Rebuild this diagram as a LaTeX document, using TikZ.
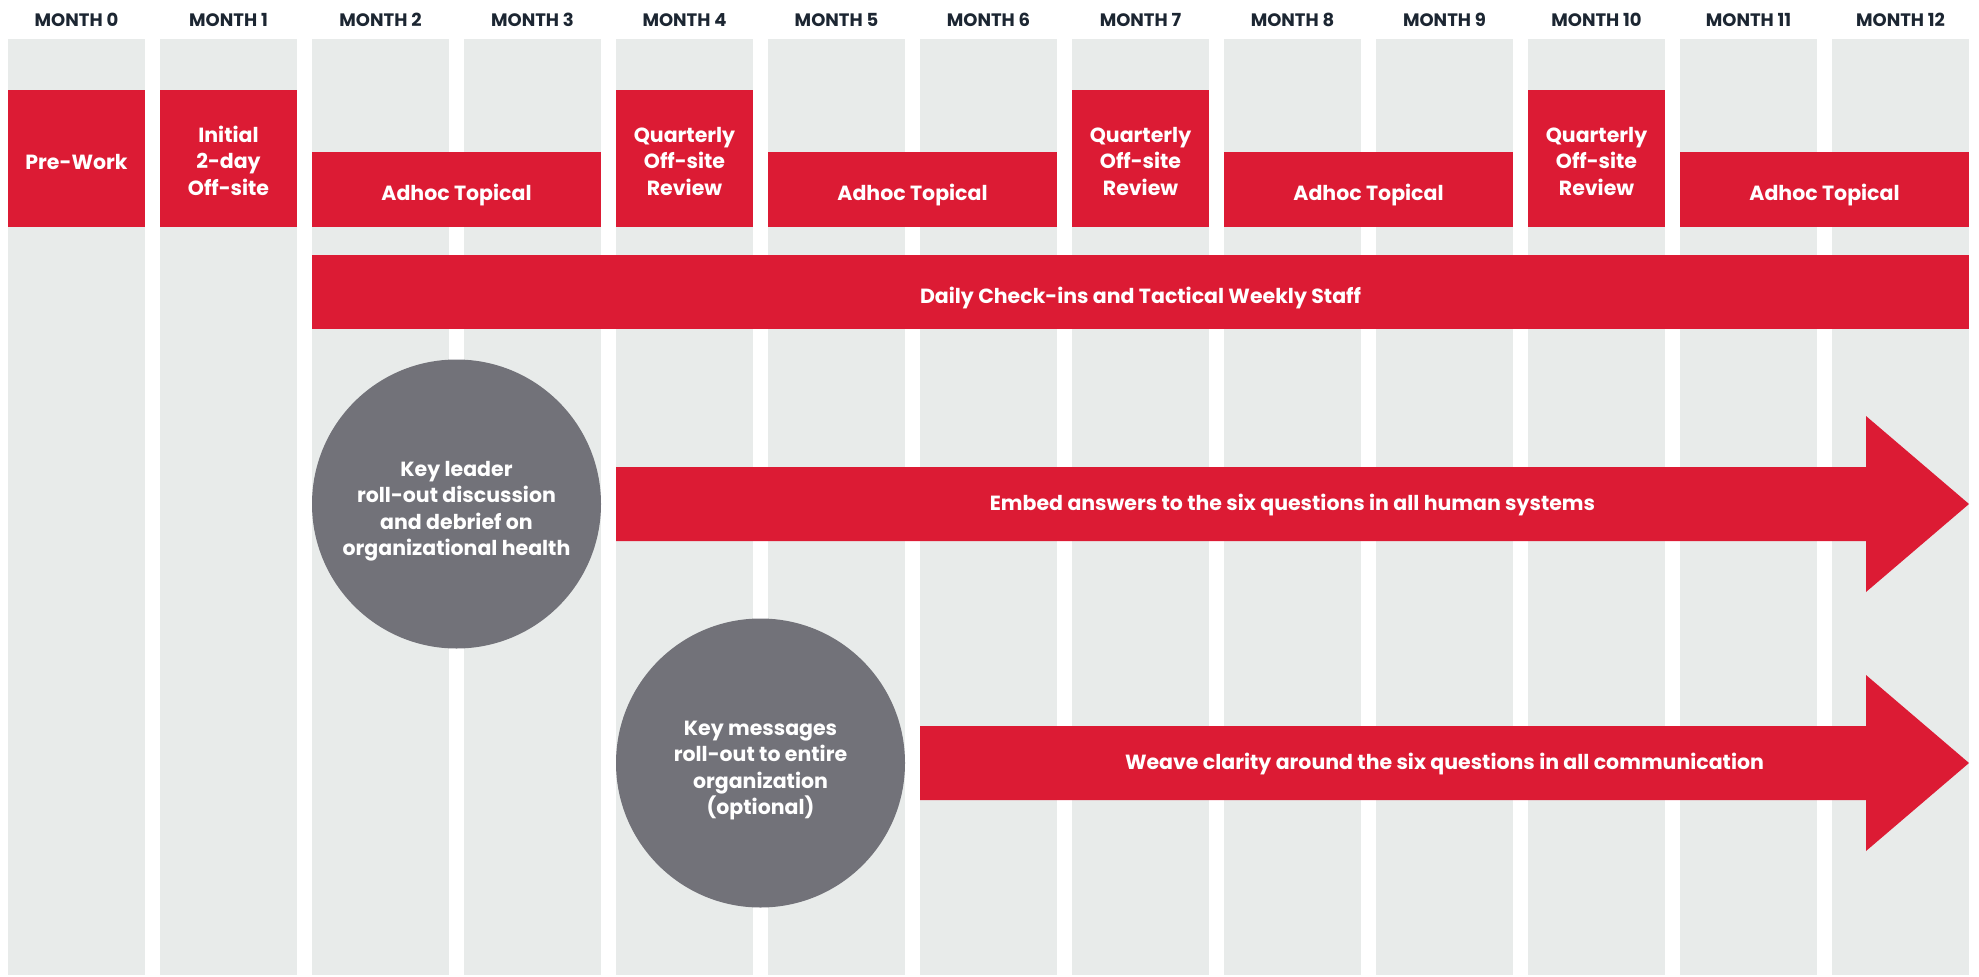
\documentclass[tikz,border=0pt]{standalone}
\usepackage{fontspec}
\setmainfont{Poppins}

\definecolor{planred}{RGB}{220,27,52}
\definecolor{colgray}{RGB}{232,235,234}
\definecolor{roundgray}{RGB}{114,114,121}
\definecolor{labelnavy}{RGB}{28,38,50}

\tikzset{
  monthcol/.style={fill=colgray, minimum width=137pt, minimum height=936pt, inner sep=0pt},
  monthlabel/.style={text=labelnavy, inner sep=0pt, font=\fontsize{18}{20}\selectfont\bfseries},
  eventbox/.style={fill=planred, text=white, minimum width=137pt, minimum height=137pt, inner sep=0pt,
    text height=73.5pt, text depth=0pt, align=center, font=\fontsize{20.5}{26.5}\selectfont\bfseries},
  topicbar/.style={fill=planred, text=white, minimum height=75pt, inner sep=0pt,
    text height=22pt, text depth=0pt, font=\fontsize{20.5}{26.5}\selectfont\bfseries},
  keyround/.style={circle, fill=roundgray, text=white, minimum size=289pt, inner sep=0pt,
    text height=103.5pt, text depth=0pt, align=center, font=\fontsize{20.5}{26.5}\selectfont\bfseries},
  arrowtext/.style={text=white, inner sep=0pt, font=\fontsize{20.5}{26.5}\selectfont\bfseries},
}

\begin{document}
\begin{tikzpicture}[x=1pt, y=-1pt]
    \useasboundingbox (0,0) rectangle (1979,977);

    % month columns
    \node[monthcol] (col0) at (76.5, 507) {};
    \node[monthcol] (col1) at (228.5, 507) {};
    \node[monthcol] (col2) at (380.5, 507) {};
    \node[monthcol] (col3) at (532.5, 507) {};
    \node[monthcol] (col4) at (684.5, 507) {};
    \node[monthcol] (col5) at (836.5, 507) {};
    \node[monthcol] (col6) at (988.5, 507) {};
    \node[monthcol] (col7) at (1140.5, 507) {};
    \node[monthcol] (col8) at (1292.5, 507) {};
    \node[monthcol] (col9) at (1444.5, 507) {};
    \node[monthcol] (col10) at (1596.5, 507) {};
    \node[monthcol] (col11) at (1748.5, 507) {};
    \node[monthcol] (col12) at (1900.5, 507) {};

    \node[monthlabel] (m0) at (76.5, 20) {MONTH 0};
    \node[monthlabel] (m1) at (228.5, 20) {MONTH 1};
    \node[monthlabel] (m2) at (380.5, 20) {MONTH 2};
    \node[monthlabel] (m3) at (532.5, 20) {MONTH 3};
    \node[monthlabel] (m4) at (684.5, 20) {MONTH 4};
    \node[monthlabel] (m5) at (836.5, 20) {MONTH 5};
    \node[monthlabel] (m6) at (988.5, 20) {MONTH 6};
    \node[monthlabel] (m7) at (1140.5, 20) {MONTH 7};
    \node[monthlabel] (m8) at (1292.5, 20) {MONTH 8};
    \node[monthlabel] (m9) at (1444.5, 20) {MONTH 9};
    \node[monthlabel] (m10) at (1596.5, 20) {MONTH 10};
    \node[monthlabel] (m11) at (1748.5, 20) {MONTH 11};
    \node[monthlabel] (m12) at (1900.5, 20) {MONTH 12};

    % off-sites and reviews
    \node[eventbox, text height=21pt] (prework) at (76.5, 158.5) {Pre-Work};
    \node[eventbox] (initial) at (228.5, 158.5) {Initial\\2-day\\Off-site};
    \node[eventbox] (review4) at (684.5, 158.5) {Quarterly\\Off-site\\Review};
    \node[eventbox] (review7) at (1140.5, 158.5) {Quarterly\\Off-site\\Review};
    \node[eventbox] (review10) at (1596.5, 158.5) {Quarterly\\Off-site\\Review};

    \node[topicbar, minimum width=289pt] (adhoc2) at (456.5, 189.5) {Adhoc Topical};
    \node[topicbar, minimum width=289pt] (adhoc5) at (912.5, 189.5) {Adhoc Topical};
    \node[topicbar, minimum width=289pt] (adhoc8) at (1368.5, 189.5) {Adhoc Topical};
    \node[topicbar, minimum width=289pt] (adhoc11) at (1824.5, 189.5) {Adhoc Topical};

    \node[topicbar, minimum width=1657pt, minimum height=74pt] (daily) at (1140.5, 292) {Daily Check-ins and Tactical Weekly Staff};

    % roll-outs
    \node[keyround] (leader) at (456.5, 504) {Key leader\\roll-out discussion\\and debrief on\\organizational health};
    \node[keyround] (messages) at (760.5, 763) {Key messages\\roll-out to entire\\organization\\(optional)};

    \fill[planred] (616, 467) -- (1866, 467) -- (1866, 416) -- (1969, 504) -- (1866, 592) -- (1866, 541) -- (616, 541) -- cycle;
    \node[arrowtext] (embed) at (1292.5, 505) {Embed answers to the six questions in all human systems};

    \fill[planred] (920, 726) -- (1866, 726) -- (1866, 675) -- (1969, 763) -- (1866, 851) -- (1866, 800) -- (920, 800) -- cycle;
    \node[arrowtext] (weave) at (1444.5, 764) {Weave clarity around the six questions in all communication};

\end{tikzpicture}
\end{document}
